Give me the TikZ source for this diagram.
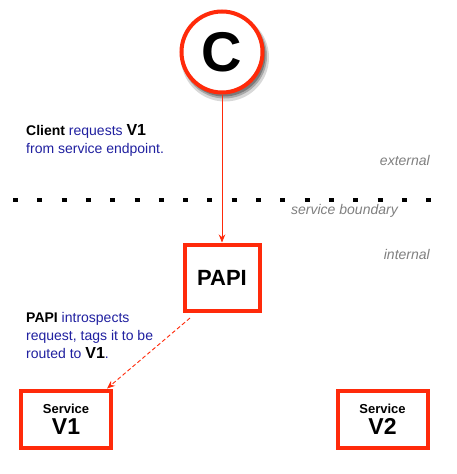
\documentclass[tikz,border=0pt]{standalone}
\usepackage{fontspec}
\setmainfont{Liberation Sans}
\usetikzlibrary{arrows.meta,calc}
\definecolor{bordred}{HTML}{FF2A0A}
\definecolor{txtblue}{HTML}{2020A0}
\definecolor{lblgray}{HTML}{808080}
\definecolor{shadeA}{HTML}{D8D8D8}
\definecolor{shadeB}{HTML}{A8A8A8}
\definecolor{shadeC}{HTML}{7A7A7A}
\tikzset{
  svcbox/.style={draw=bordred, line width=4pt, fill=white, minimum width=90pt, minimum height=57pt, inner sep=0pt, align=center,
    font=\bfseries\fontsize{23}{21}\selectfont},
  lbl/.style={text=lblgray, font=\itshape\fontsize{14}{16}\selectfont, anchor=base east, inner sep=0pt},
  note/.style={anchor=base west, inner sep=0pt, font=\fontsize{14}{16}\selectfont},
  conn/.style={draw=bordred, line width=0.9pt, -{Stealth[length=8pt,width=6.5pt]}},
}
% #1 centre x, #2 centre y, #3 half width, #4 half height (outer)
\newcommand{\boxshade}[4]{%
  \fill[shadeA] (#1-#3+1pt,#2-#4+1pt) rectangle (#1+#3+6pt,#2+#4+7.5pt);
  \fill[shadeB] (#1-#3+1.5pt,#2-#4+1.5pt) rectangle (#1+#3+4.5pt,#2+#4+5.5pt);
  \fill[shadeC] (#1-#3+2pt,#2-#4+2pt) rectangle (#1+#3+3pt,#2+#4+3.5pt);}
\begin{document}
\begin{tikzpicture}[x=1pt,y=-1pt]
\useasboundingbox (0,0) rectangle (456,474);
\fill[white] (0,0) rectangle (456,474);
% shadows
\fill[shadeA] (225,57.5) circle (44);
\fill[shadeB] (224.5,56) circle (42.5);
\fill[shadeC] (224,55) circle (41.5);
\boxshade{222pt}{277.5pt}{39.5pt}{35pt}
\boxshade{66pt}{419pt}{47pt}{30.5pt}
\boxshade{382.5pt}{419.5pt}{47pt}{30.5pt}
% boundary
\draw[black, line width=3.5pt, dash pattern=on 5pt off 19.3pt] (13,200) -- (432,200);
% client
\node[circle, draw=bordred, line width=4pt, fill=white, minimum size=81pt, inner sep=0pt,
  font=\bfseries\fontsize{56}{56}\selectfont] (c) at (222,52) {C};
% PAPI
\node[svcbox, minimum width=75pt, minimum height=66pt, font=\bfseries\fontsize{22}{24}\selectfont] (papi) at (222,277.5) {PAPI};
% services
\node[svcbox] (v1) at (66,419) {{\fontsize{13}{21}\selectfont Service}\\V1};
\node[svcbox] (v2) at (382.5,419.5) {{\fontsize{13}{21}\selectfont Service}\\V2};
% connectors
\draw[conn] (c.south) -- (papi.north);
\coordinate (ds) at (190,318);
\draw[conn, dashed, dash pattern=on 4pt off 2.5pt] (ds) -- ([xshift=-6]v1.north east);
% labels
\node[lbl] (ext) at (430,165) {external};
\node[lbl] (sb) at (398,214) {service boundary};
\node[lbl] (int) at (430,259) {internal};
% notes
\node[note] (n1) at (26,135) {\textbf{Client} \textcolor{txtblue}{requests} {\bfseries\fontsize{16}{18}\selectfont V1}};
\node[note, text=txtblue] (n2) at (26,153) {from service endpoint.};
\node[note] (n3) at (26,322) {\textbf{PAPI} \textcolor{txtblue}{introspects}};
\node[note, text=txtblue] (n4) at (26,340) {request, tags it to be};
\node[note] (n5) at (26,358) {\textcolor{txtblue}{routed to} {\bfseries\fontsize{16}{18}\selectfont V1}\textcolor{txtblue}{.}};
\end{tikzpicture}
\end{document}
